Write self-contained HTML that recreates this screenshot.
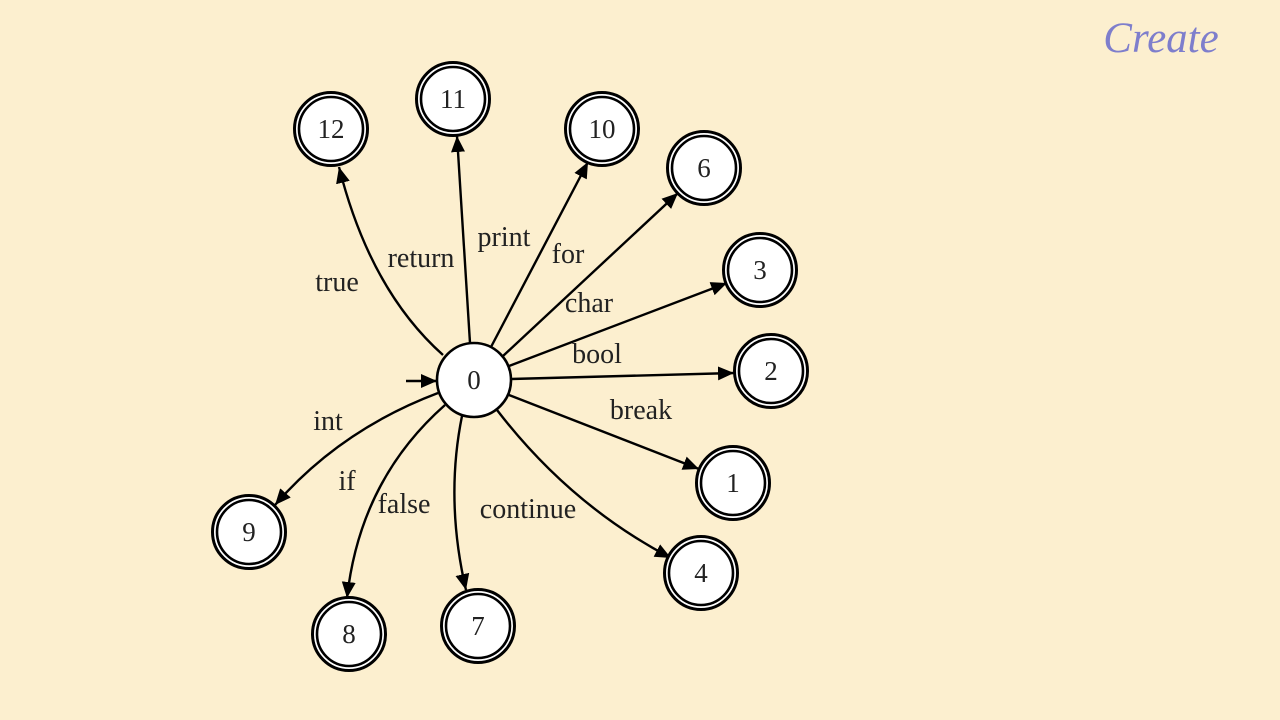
<!DOCTYPE html>
<html><head><meta charset="utf-8"><style>
html,body{margin:0;padding:0;background:#fcefcf;}
svg{display:block}
text{font-family:"Liberation Serif",serif;}
</style></head><body>
<svg width="1280" height="720" viewBox="0 0 1280 720">
<defs>
<marker id="b" viewBox="0 0 16 14" markerWidth="16" markerHeight="14" refX="16" refY="7" orient="auto" markerUnits="userSpaceOnUse">
<path d="M0,0 L16,7 L0,14 Z" fill="#000"/>
</marker>
</defs>
<rect width="1280" height="720" fill="#fcefcf"/>
<text x="1161" y="52" font-size="43" font-style="italic" fill="#7e7ecc" text-anchor="middle">Create</text>
<g stroke="#000" stroke-width="2.4" fill="none" marker-end="url(#b)">
<path d="M443,355 Q370,290 339,167"/>
<path d="M470,343 L457,136"/>
<path d="M491,347 L588,162"/>
<path d="M503,356 L678,193"/>
<path d="M509,366 L727,283"/>
<path d="M511,379 L734,373"/>
<path d="M509,395 L699,469"/>
<path d="M497,410 Q570,505 671,558"/>
<path d="M462,416 Q445,500 466,590"/>
<path d="M445,405 Q360,480 347,598"/>
<path d="M438,393 Q340,430 275,505"/>
<path d="M406,381 L437,381"/>
</g>
<g stroke="#000" stroke-width="2.6" fill="#fff">
<circle cx="474" cy="380" r="37"/>
</g>
<g stroke="#000" fill="#fff">
<g stroke-width="3">
<circle cx="331" cy="129" r="36.5"/><circle cx="453" cy="99" r="36.5"/><circle cx="602" cy="129" r="36.5"/>
<circle cx="704" cy="168" r="36.5"/><circle cx="760" cy="270" r="36.5"/><circle cx="771" cy="371" r="36.5"/>
<circle cx="733" cy="483" r="36.5"/><circle cx="701" cy="573" r="36.5"/><circle cx="478" cy="626" r="36.5"/>
<circle cx="349" cy="634" r="36.5"/><circle cx="249" cy="532" r="36.5"/>
</g>
<g stroke-width="2.6" fill="none">
<circle cx="331" cy="129" r="32"/><circle cx="453" cy="99" r="32"/><circle cx="602" cy="129" r="32"/>
<circle cx="704" cy="168" r="32"/><circle cx="760" cy="270" r="32"/><circle cx="771" cy="371" r="32"/>
<circle cx="733" cy="483" r="32"/><circle cx="701" cy="573" r="32"/><circle cx="478" cy="626" r="32"/>
<circle cx="349" cy="634" r="32"/><circle cx="249" cy="532" r="32"/>
</g>
</g>
<g font-size="27" fill="#222" text-anchor="middle">
<text x="474" y="389">0</text>
<text x="331" y="138">12</text><text x="453" y="108">11</text><text x="602" y="138">10</text>
<text x="704" y="177">6</text><text x="760" y="279">3</text><text x="771" y="380">2</text>
<text x="733" y="492">1</text><text x="701" y="582">4</text><text x="478" y="635">7</text>
<text x="349" y="643">8</text><text x="249" y="541">9</text>
</g>
<g font-size="28" fill="#222" text-anchor="middle">
<text x="337" y="291">true</text>
<text x="421" y="267">return</text>
<text x="504" y="246">print</text>
<text x="568" y="263">for</text>
<text x="589" y="312">char</text>
<text x="597" y="363">bool</text>
<text x="641" y="419">break</text>
<text x="328" y="430">int</text>
<text x="347" y="490">if</text>
<text x="404" y="513">false</text>
<text x="528" y="518">continue</text>
</g>
</svg>
</body></html>
